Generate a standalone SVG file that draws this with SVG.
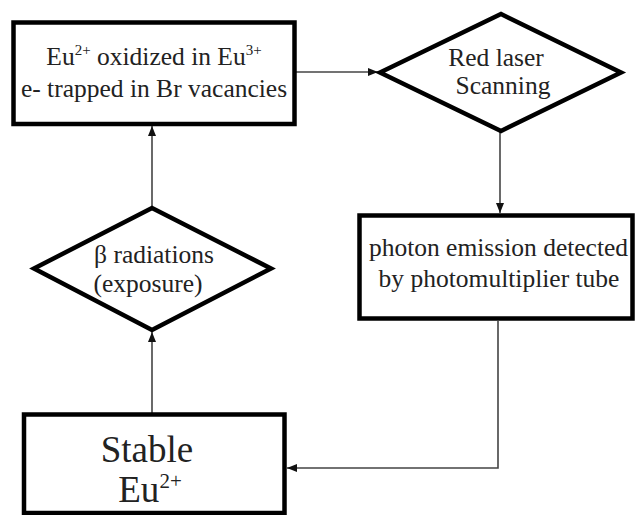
<svg xmlns="http://www.w3.org/2000/svg" width="635" height="515" viewBox="0 0 635 515">
<defs>
<marker id="arr" viewBox="0 0 10 8" refX="10" refY="4" markerWidth="10" markerHeight="8" markerUnits="userSpaceOnUse" orient="auto">
<path d="M0,0 L10,4 L0,8 Z" fill="#111"/>
</marker>
</defs>
<style>
.box{fill:#fff;stroke:#000;stroke-width:4.5;stroke-linejoin:miter}
.dia{fill:#fff;stroke:#000;stroke-width:4.5;stroke-linejoin:miter}
.con{fill:none;stroke:#444;stroke-width:1.6}
text{font-family:'Liberation Serif','DejaVu Serif',serif;fill:#222;text-anchor:middle}
.t{font-size:25.5px}
.big{font-size:37px}
.sup{font-size:15px}
.supb{font-size:21px}
</style>
<rect width="635" height="515" fill="#fff"/>
<g id="connectors">
<line class="con" x1="296" y1="72" x2="378" y2="72" marker-end="url(#arr)"/>
<line class="con" x1="500" y1="131" x2="500" y2="213" marker-end="url(#arr)"/>
<polyline class="con" points="498,321 498,468 287,468" marker-end="url(#arr)"/>
<line class="con" x1="152" y1="414" x2="152" y2="332" marker-end="url(#arr)"/>
<line class="con" x1="152" y1="207" x2="152" y2="126" marker-end="url(#arr)"/>
</g>
<g id="node-eu-oxidized">
<rect class="box" x="13.5" y="22.5" width="281" height="101.5"/>
<text class="t" x="154" y="65">Eu<tspan class="sup" dy="-10">2+</tspan><tspan dy="10"> oxidized in Eu</tspan><tspan class="sup" dy="-10">3+</tspan></text>
<text class="t" x="154" y="96.7">e- trapped in Br vacancies</text>
</g>
<g id="node-red-laser">
<polygon class="dia" points="380,72.5 501,14 621,72.5 501,131"/>
<text class="t" x="496" y="65.7">Red laser</text>
<text class="t" x="503" y="94.3">Scanning</text>
</g>
<g id="node-photon">
<rect class="box" x="359.5" y="215.5" width="273" height="103"/>
<text class="t" x="498.5" y="255.5">photon emission detected</text>
<text class="t" x="499" y="287">by photomultiplier tube</text>
</g>
<g id="node-beta">
<polygon class="dia" points="34,268.5 152,208 271,268.5 152,330"/>
<text class="t" x="154" y="262.7">β radiations</text>
<text class="t" x="148" y="292">(exposure)</text>
</g>
<g id="node-stable">
<rect class="box" x="24" y="414.5" width="260.5" height="98.5"/>
<text class="big" x="147" y="462">Stable</text>
<text class="big" x="150" y="502">Eu<tspan class="supb" dy="-14">2+</tspan></text>
</g>
</svg>
